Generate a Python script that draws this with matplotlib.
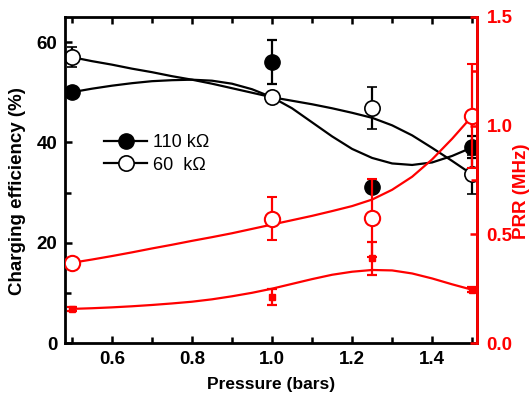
import numpy as np
import matplotlib.pyplot as plt
from matplotlib.lines import Line2D

plt.rcParams['font.family'] = ['Liberation Sans', 'DejaVu Sans']

# measured points
pressure = [0.5, 1.0, 1.25, 1.5]
eff_110 = [50, 56, 31.2, 39]
eff_110_err = [1.0, 4.4, 0, 2.2]
eff_60 = [57, 49, 46.8, 33.6]
eff_60_err = [2.0, 1.0, 4.2, 3.8]
prr_110 = [0.157, 0.212, 0.39, 0.245]
prr_110_err = [0.01, 0.035, 0.076, 0.012]
prr_60 = [0.369, 0.572, 0.575, 1.044]
prr_60_err = [0.02, 0.1, 0.18, 0.24]

# fitted curves
fit_x = [0.5, 0.55, 0.6, 0.65, 0.7, 0.75, 0.8, 0.85, 0.9, 0.95, 1.0,
         1.05, 1.1, 1.15, 1.2, 1.25, 1.3, 1.35, 1.4, 1.45, 1.5]
fit_eff_110 = [50, 50.7, 51.3, 51.8, 52.2, 52.4, 52.5, 52.3, 51.7, 50.6, 49,
               46.8, 44, 41.2, 38.7, 36.9, 35.8, 35.5, 36.0, 37.3, 39]
fit_eff_60 = [57, 56.2, 55.5, 54.7, 54, 53.2, 52.5, 51.7, 50.8, 49.9, 49,
              48.3, 47.6, 46.8, 45.9, 44.9, 43.4, 41.4, 38.9, 36.3, 33.6]
fit_prr_110 = [0.157, 0.160, 0.164, 0.169, 0.175, 0.182, 0.19, 0.201, 0.215, 0.231, 0.25,
               0.272, 0.294, 0.314, 0.328, 0.336, 0.334, 0.32, 0.297, 0.27, 0.245]
fit_prr_60 = [0.369, 0.384, 0.40, 0.417, 0.435, 0.452, 0.47, 0.487, 0.505, 0.525, 0.545,
              0.565, 0.585, 0.607, 0.63, 0.66, 0.705, 0.765, 0.845, 0.94, 1.044]

fig = plt.figure(figsize=(5.29, 3.95), dpi=100)
ax = fig.add_axes([0.1229, 0.1316, 0.7788, 0.8254])

ax.plot(fit_x, fit_eff_110, color='black', lw=1.6)
ax.plot(fit_x, fit_eff_60, color='black', lw=1.6)
ax.errorbar(pressure, eff_110, yerr=eff_110_err, fmt='o', color='black', ms=11,
            capsize=3.5, capthick=1.6, elinewidth=1.6)
ax.errorbar(pressure, eff_60, yerr=eff_60_err, fmt='o', color='black', mfc='white',
            mec='black', mew=1.2, ms=11, capsize=3.5, capthick=1.6, elinewidth=1.6)

ax.set_xlim(0.483, 1.512)
ax.set_ylim(0, 65)
ax.set_xticks([0.6, 0.8, 1.0, 1.2, 1.4])
ax.set_xticks(np.arange(0.5, 1.51, 0.1), minor=True)
ax.set_yticks([0, 20, 40, 60])
ax.set_yticks([10, 30, 50], minor=True)
ax.tick_params(axis='both', which='both', direction='out', width=1.8, labelsize=13.5)
ax.tick_params(which='major', length=5)
ax.tick_params(which='minor', length=4)
ax.tick_params(top=True, which='both', direction='in')
ax.tick_params(axis='x', which='both', bottom=True, pad=6)
ax.tick_params(axis='y', which='both', pad=5.5)
for lab in ax.get_xticklabels() + ax.get_yticklabels():
    lab.set_fontweight('bold')
for s in ax.spines.values():
    s.set_linewidth(2)
ax.set_xlabel('Pressure (bars)', fontsize=12.5, fontweight='bold', labelpad=6)
ax.set_ylabel('Charging efficiency (%)', fontsize=13.5, fontweight='bold')
ax.yaxis.set_label_coords(-0.095, 0.465)

ax2 = ax.twinx()
ax2.plot(fit_x, fit_prr_110, color='red', lw=1.6)
ax2.plot(fit_x, fit_prr_60, color='red', lw=1.6)
ax2.errorbar(pressure, prr_110, yerr=prr_110_err, fmt='s', color='red', ms=5,
             capsize=3.5, capthick=1.6, elinewidth=1.6)
ax2.errorbar(pressure, prr_60, yerr=prr_60_err, fmt='o', color='red', mfc='white',
             mec='red', mew=1.5, ms=11, capsize=3.5, capthick=1.6, elinewidth=1.6)
ax2.set_ylim(0, 1.5)
ax2.set_yticks([0, 0.5, 1.0, 1.5])
ax2.set_yticks([0.25, 0.75, 1.25], minor=True)
ax2.tick_params(axis='y', which='both', direction='in', colors='red', width=1.8,
                labelsize=13.5, pad=7)
ax2.tick_params(which='major', length=5)
ax2.tick_params(which='minor', length=4)
for lab in ax2.get_yticklabels():
    lab.set_fontweight('bold')
ax2.spines['right'].set_color('red')
ax2.spines['right'].set_linewidth(2)
for k in ['left', 'top', 'bottom']:
    ax2.spines[k].set_visible(False)
ax2.set_ylabel('PRR (MHz)', color='red', fontsize=13.5, fontweight='bold')
ax2.yaxis.set_label_coords(1.088, 0.465)

handles = [Line2D([], [], color='black', marker='o', ms=11, lw=1.6),
           Line2D([], [], color='black', marker='o', ms=11, mfc='white', mew=1.2, lw=1.6)]
ax.legend(handles, ['110 k\u03a9', '60  k\u03a9'], frameon=False, fontsize=13,
          loc='upper left', bbox_to_anchor=(0.055, 0.69), handlelength=2.4,
          handletextpad=0.3, labelspacing=0.3)

fig.savefig('out.png', dpi=100)
